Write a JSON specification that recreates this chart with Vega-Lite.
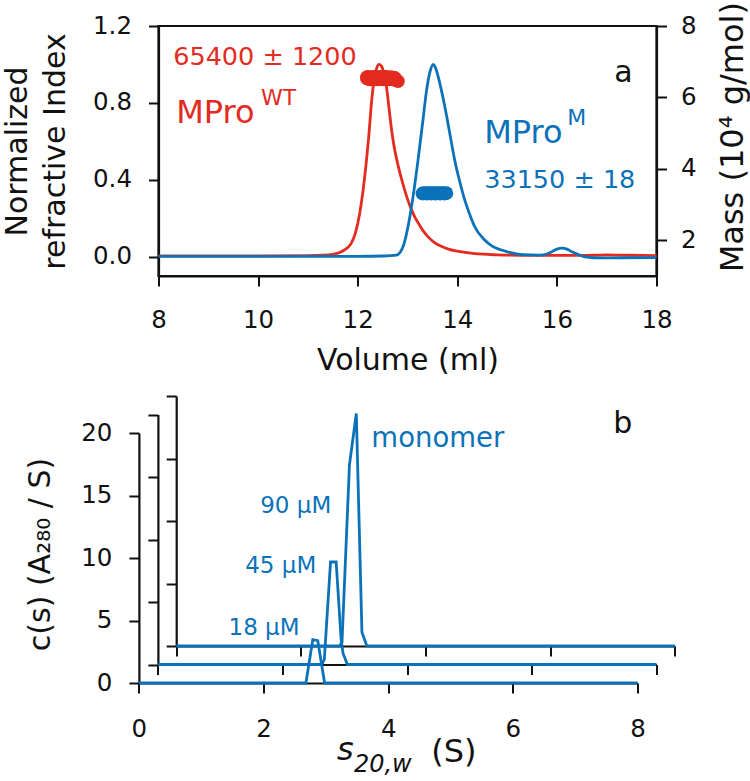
{
  "$schema": "https://vega.github.io/schema/vega-lite/v6.json",
  "padding": {"left": 0.5, "top": 0, "right": 0, "bottom": 0},
  "spacing": 18,
  "config": {
    "font": "DejaVu Sans",
    "view": {"stroke": null},
    "axis": {
      "grid": false,
      "domainColor": "#111111",
      "tickColor": "#111111",
      "labelColor": "#111111",
      "titleColor": "#111111",
      "domainWidth": 2.2,
      "tickWidth": 2,
      "tickSize": 10,
      "labelFontSize": 24.5,
      "titleFontWeight": "normal",
      "labelFlush": false,
      "labelOverlap": false
    },
    "text": {"align": "left", "baseline": "alphabetic"}
  },
  "datasets": {
    "ri_wt": [
      {"ml": 8.0, "ri": 0.005}, {"ml": 9.0, "ri": 0.005}, {"ml": 10.0, "ri": 0.005}, {"ml": 11.0, "ri": 0.006},
      {"ml": 11.3, "ri": 0.008}, {"ml": 11.5, "ri": 0.013}, {"ml": 11.7, "ri": 0.03}, {"ml": 11.87, "ri": 0.07},
      {"ml": 11.95, "ri": 0.12}, {"ml": 12.04, "ri": 0.225}, {"ml": 12.1, "ri": 0.33}, {"ml": 12.17, "ri": 0.485},
      {"ml": 12.22, "ri": 0.62}, {"ml": 12.28, "ri": 0.81}, {"ml": 12.33, "ri": 0.92}, {"ml": 12.38, "ri": 0.98},
      {"ml": 12.43, "ri": 1.0}, {"ml": 12.48, "ri": 0.99}, {"ml": 12.53, "ri": 0.95}, {"ml": 12.58, "ri": 0.88},
      {"ml": 12.63, "ri": 0.77}, {"ml": 12.68, "ri": 0.66}, {"ml": 12.74, "ri": 0.56}, {"ml": 12.82, "ri": 0.465},
      {"ml": 12.88, "ri": 0.405}, {"ml": 12.94, "ri": 0.35}, {"ml": 13.0, "ri": 0.3}, {"ml": 13.08, "ri": 0.245},
      {"ml": 13.15, "ri": 0.205}, {"ml": 13.21, "ri": 0.178}, {"ml": 13.3, "ri": 0.14}, {"ml": 13.41, "ri": 0.105},
      {"ml": 13.55, "ri": 0.072}, {"ml": 13.7, "ri": 0.052}, {"ml": 13.82, "ri": 0.04}, {"ml": 14.0, "ri": 0.029},
      {"ml": 14.35, "ri": 0.016}, {"ml": 14.8, "ri": 0.01}, {"ml": 15.5, "ri": 0.007},
      {"ml": 16.5, "ri": 0.007}, {"ml": 17.0, "ri": 0.01}, {"ml": 17.5, "ri": 0.008}, {"ml": 18.0, "ri": 0.006}
    ],
    "ri_m": [
      {"ml": 8.0, "ri": 0.002}, {"ml": 10.0, "ri": 0.002}, {"ml": 12.0, "ri": 0.002}, {"ml": 12.5, "ri": 0.004},
      {"ml": 12.78, "ri": 0.009}, {"ml": 12.91, "ri": 0.052}, {"ml": 13.01, "ri": 0.156}, {"ml": 13.11, "ri": 0.31},
      {"ml": 13.21, "ri": 0.5}, {"ml": 13.31, "ri": 0.71}, {"ml": 13.38, "ri": 0.86}, {"ml": 13.45, "ri": 0.96},
      {"ml": 13.52, "ri": 1.0}, {"ml": 13.58, "ri": 0.97}, {"ml": 13.65, "ri": 0.9}, {"ml": 13.75, "ri": 0.78},
      {"ml": 13.85, "ri": 0.64}, {"ml": 13.95, "ri": 0.5}, {"ml": 14.05, "ri": 0.39}, {"ml": 14.15, "ri": 0.295},
      {"ml": 14.25, "ri": 0.22}, {"ml": 14.35, "ri": 0.156}, {"ml": 14.55, "ri": 0.087}, {"ml": 14.7, "ri": 0.055},
      {"ml": 14.89, "ri": 0.035}, {"ml": 15.22, "ri": 0.014}, {"ml": 15.5, "ri": 0.01}, {"ml": 15.69, "ri": 0.009},
      {"ml": 15.85, "ri": 0.02}, {"ml": 16.0, "ri": 0.04}, {"ml": 16.1, "ri": 0.045}, {"ml": 16.2, "ri": 0.04},
      {"ml": 16.3, "ri": 0.026}, {"ml": 16.45, "ri": 0.01}, {"ml": 16.56, "ri": 0.0}, {"ml": 16.9, "ri": -0.006},
      {"ml": 17.3, "ri": -0.005}, {"ml": 18.0, "ri": -0.004}
    ],
    "mass_wt": [
      {"ml": 12.2, "mass": 6.55}, {"ml": 12.23, "mass": 6.54}, {"ml": 12.26, "mass": 6.53}, {"ml": 12.29, "mass": 6.54},
      {"ml": 12.32, "mass": 6.55}, {"ml": 12.35, "mass": 6.54}, {"ml": 12.38, "mass": 6.53}, {"ml": 12.41, "mass": 6.54},
      {"ml": 12.44, "mass": 6.55}, {"ml": 12.47, "mass": 6.54}, {"ml": 12.5, "mass": 6.53}, {"ml": 12.53, "mass": 6.54},
      {"ml": 12.56, "mass": 6.55}, {"ml": 12.59, "mass": 6.54}, {"ml": 12.62, "mass": 6.53}, {"ml": 12.65, "mass": 6.54},
      {"ml": 12.68, "mass": 6.54}, {"ml": 12.71, "mass": 6.53}, {"ml": 12.74, "mass": 6.52}
    ],
    "mass_wt_open": [
      {"ml": 12.78, "mass": 6.48}, {"ml": 12.81, "mass": 6.45}
    ],
    "mass_m": [
      {"ml": 13.3, "mass": 3.31}, {"ml": 13.33, "mass": 3.32}, {"ml": 13.36, "mass": 3.315}, {"ml": 13.39, "mass": 3.31},
      {"ml": 13.42, "mass": 3.32}, {"ml": 13.45, "mass": 3.315}, {"ml": 13.48, "mass": 3.31}, {"ml": 13.51, "mass": 3.32},
      {"ml": 13.54, "mass": 3.315}, {"ml": 13.57, "mass": 3.31}, {"ml": 13.6, "mass": 3.32}, {"ml": 13.63, "mass": 3.315},
      {"ml": 13.66, "mass": 3.31}, {"ml": 13.69, "mass": 3.32}, {"ml": 13.72, "mass": 3.315}, {"ml": 13.75, "mass": 3.31},
      {"ml": 13.78, "mass": 3.32}
    ],
    "lab_a_big": [
      {"ml": 8.356, "ri": 0.694, "label": "MPro", "grp": "WT"},
      {"ml": 14.54, "ri": 0.59, "label": "MPro", "grp": "M"}
    ],
    "lab_a_sup": [
      {"ml": 10.06, "ri": 0.789, "label": "WT", "grp": "WT"},
      {"ml": 16.21, "ri": 0.685, "label": "M", "grp": "M"}
    ],
    "lab_a_num": [
      {"ml": 8.295, "ri": 0.997, "label": "65400 ± 1200", "grp": "WT"},
      {"ml": 14.54, "ri": 0.356, "label": "33150 ± 18", "grp": "M"}
    ],
    "lab_a_panel": [
      {"ml": 17.15, "ri": 0.91, "label": "a", "grp": "k"}
    ],
    "cs1": [
      {"s": 0, "c": 0}, {"s": 1, "c": 0}, {"s": 2, "c": 0}, {"s": 2.6, "c": 0}, {"s": 2.68, "c": 0},
      {"s": 2.79, "c": 3.47}, {"s": 2.87, "c": 3.38}, {"s": 2.98, "c": 0}, {"s": 3.5, "c": 0},
      {"s": 5, "c": 0}, {"s": 6.5, "c": 0}, {"s": 8, "c": 0}
    ],
    "cs2": [
      {"s": 0, "c": 0}, {"s": 1, "c": 0}, {"s": 2, "c": 0}, {"s": 2.63, "c": 0}, {"s": 2.67, "c": 0.4},
      {"s": 2.77, "c": 8.2}, {"s": 2.86, "c": 8.2}, {"s": 2.94, "c": 2.0}, {"s": 2.97, "c": 0.9},
      {"s": 3.04, "c": 0}, {"s": 4, "c": 0}, {"s": 6, "c": 0}, {"s": 8, "c": 0}
    ],
    "cs3": [
      {"s": 0, "c": 0}, {"s": 1, "c": 0}, {"s": 2, "c": 0}, {"s": 2.62, "c": 0}, {"s": 2.66, "c": 0.3},
      {"s": 2.78, "c": 14.5}, {"s": 2.89, "c": 18.6}, {"s": 2.98, "c": 1.1}, {"s": 3.06, "c": 0},
      {"s": 4, "c": 0}, {"s": 6, "c": 0}, {"s": 8, "c": 0}
    ],
    "lab_b_conc": [
      {"s": 2.578, "c": 3.86, "label": "18 µM"},
      {"s": 2.846, "c": 8.8, "label": "45 µM"},
      {"s": 3.087, "c": 13.6, "label": "90 µM"}
    ],
    "lab_b_mono": [{"s": 3.73, "c": 18.9, "label": "monomer"}],
    "lab_b_panel": [{"s": 7.61, "c": 20.0, "label": "b"}],
    "lab_b_xs": [{"s": 3.18, "c": -6.14, "label": "s"}],
    "lab_b_xsub": [{"s": 3.45, "c": -7.1, "label": "20,w"}],
    "lab_b_xunit": [{"s": 4.69, "c": -6.3, "label": "(S)"}]
  },
  "vconcat": [
    {
      "width": 498,
      "height": 250,
      "view": {"stroke": "#111111", "strokeWidth": 2.2},
      "resolve": {"scale": {"y": "independent"}},
      "layer": [
        {
          "data": {"name": "ri_wt"},
          "mark": {"type": "line", "color": "#e32b1f", "strokeWidth": 2.8, "interpolate": "monotone"},
          "encoding": {
            "x": {"field": "ml", "type": "quantitative", "scale": {"domain": [8, 18], "nice": false},
                  "axis": {"values": [8, 10, 12, 14, 16, 18], "title": "Volume (ml)", "titleFontSize": 30,
                           "titleBaseline": "alphabetic", "titleY": 93, "labelBaseline": "alphabetic", "labelPadding": 41}},
            "y": {"field": "ri", "type": "quantitative", "scale": {"domain": [-0.1, 1.2], "nice": false},
                  "axis": {"orient": "left", "values": [0, 0.4, 0.8, 1.2], "format": ".1f",
                           "title": ["Normalized", "refractive Index"], "titleFontSize": 30, "titleLineHeight": 38,
                           "titleX": -132, "titleBaseline": "alphabetic", "labelPadding": 17}}
          }
        },
        {
          "data": {"name": "ri_m"},
          "mark": {"type": "line", "color": "#0b72b9", "strokeWidth": 2.8, "interpolate": "monotone"},
          "encoding": {
            "x": {"field": "ml", "type": "quantitative"},
            "y": {"field": "ri", "type": "quantitative", "scale": {"domain": [-0.1, 1.2], "nice": false}, "axis": null}
          }
        },
        {
          "data": {"name": "mass_wt"},
          "mark": {"type": "circle", "color": "#e32b1f", "size": 240, "opacity": 1},
          "encoding": {
            "x": {"field": "ml", "type": "quantitative"},
            "y": {"field": "mass", "type": "quantitative", "scale": {"domain": [1, 8], "nice": false},
                  "axis": {"orient": "right", "values": [2, 4, 6, 8], "title": "Mass (10⁴ g/mol)", "titleAngle": 270,
                           "titleFontSize": 32, "titleX": 86, "titleY": 110.7, "titleBaseline": "alphabetic", "labelPadding": 14}}
          }
        },
        {
          "data": {"name": "mass_wt_open"},
          "mark": {"type": "point", "shape": "circle", "color": "#e32b1f", "filled": false, "size": 120, "strokeWidth": 2.5, "opacity": 1},
          "encoding": {
            "x": {"field": "ml", "type": "quantitative"},
            "y": {"field": "mass", "type": "quantitative", "scale": {"domain": [1, 8], "nice": false}, "axis": null}
          }
        },
        {
          "data": {"name": "mass_m"},
          "mark": {"type": "circle", "color": "#0b72b9", "size": 190, "opacity": 1},
          "encoding": {
            "x": {"field": "ml", "type": "quantitative"},
            "y": {"field": "mass", "type": "quantitative", "scale": {"domain": [1, 8], "nice": false}, "axis": null}
          }
        },
        {
          "data": {"name": "lab_a_big"},
          "mark": {"type": "text", "fontSize": 32},
          "encoding": {
            "x": {"field": "ml", "type": "quantitative"},
            "y": {"field": "ri", "type": "quantitative", "scale": {"domain": [-0.1, 1.2], "nice": false}, "axis": null},
            "text": {"field": "label"},
            "color": {"field": "grp", "type": "nominal", "scale": {"domain": ["WT", "M", "k"], "range": ["#e32b1f", "#0b72b9", "#111111"]}, "legend": null}
          }
        },
        {
          "data": {"name": "lab_a_sup"},
          "mark": {"type": "text", "fontSize": 22},
          "encoding": {
            "x": {"field": "ml", "type": "quantitative"},
            "y": {"field": "ri", "type": "quantitative", "scale": {"domain": [-0.1, 1.2], "nice": false}, "axis": null},
            "text": {"field": "label"},
            "color": {"field": "grp", "type": "nominal", "legend": null}
          }
        },
        {
          "data": {"name": "lab_a_num"},
          "mark": {"type": "text", "fontSize": 25.5},
          "encoding": {
            "x": {"field": "ml", "type": "quantitative"},
            "y": {"field": "ri", "type": "quantitative", "scale": {"domain": [-0.1, 1.2], "nice": false}, "axis": null},
            "text": {"field": "label"},
            "color": {"field": "grp", "type": "nominal", "legend": null}
          }
        },
        {
          "data": {"name": "lab_a_panel"},
          "mark": {"type": "text", "fontSize": 30},
          "encoding": {
            "x": {"field": "ml", "type": "quantitative"},
            "y": {"field": "ri", "type": "quantitative", "scale": {"domain": [-0.1, 1.2], "nice": false}, "axis": null},
            "text": {"field": "label"},
            "color": {"field": "grp", "type": "nominal", "legend": null}
          }
        }
      ]
    },
    {
      "width": 480,
      "height": 250,
      "resolve": {"scale": {"x": "independent", "y": "independent"}},
      "layer": [
        {
          "data": {"name": "cs1"},
          "mark": {"type": "line", "color": "#0b72b9", "strokeWidth": 2.8, "clip": false},
          "encoding": {
            "x": {"field": "s", "type": "quantitative", "scale": {"domain": [0, 8], "range": [-19.6, 479], "nice": false},
                  "axis": {"orient": "bottom", "values": [0, 2, 4, 6, 8], "title": null, "labelBaseline": "alphabetic", "labelPadding": 43.5}},
            "y": {"field": "c", "type": "quantitative", "scale": {"domain": [0, 20], "range": [250, 0], "nice": false},
                  "axis": {"orient": "left", "offset": 19.6, "values": [0, 5, 10, 15, 20], "title": "c(s) (A₂₈₀ / S)",
                           "titleFontSize": 30, "titleX": -89, "titleY": 121, "titleBaseline": "alphabetic", "labelPadding": 17}}
          }
        },
        {
          "data": {"name": "cs2"},
          "mark": {"type": "line", "color": "#0b72b9", "strokeWidth": 2.8, "clip": false},
          "encoding": {
            "x": {"field": "s", "type": "quantitative", "scale": {"domain": [0, 8], "range": [-0.6, 498], "nice": false},
                  "axis": {"orient": "bottom", "offset": -18.5, "values": [0, 2, 4, 6, 8], "title": null, "labels": false}},
            "y": {"field": "c", "type": "quantitative", "scale": {"domain": [0, 20], "range": [231.5, -18.5], "nice": false},
                  "axis": {"orient": "left", "offset": 0.6, "values": [0, 5, 10, 15, 20], "title": null, "labels": false}}
          }
        },
        {
          "data": {"name": "cs3"},
          "mark": {"type": "line", "color": "#0b72b9", "strokeWidth": 2.8, "clip": false},
          "encoding": {
            "x": {"field": "s", "type": "quantitative", "scale": {"domain": [0, 8], "range": [17.7, 516.3], "nice": false},
                  "axis": {"orient": "bottom", "offset": -37, "values": [0, 2, 4, 6, 8], "title": null, "labels": false}},
            "y": {"field": "c", "type": "quantitative", "scale": {"domain": [0, 20], "range": [213, -37], "nice": false},
                  "axis": {"orient": "left", "offset": -17.7, "values": [0, 5, 10, 15, 20], "title": null, "labels": false}}
          }
        },
        {
          "data": {"name": "lab_b_conc"},
          "mark": {"type": "text", "fontSize": 23, "color": "#0b72b9", "align": "right"},
          "encoding": {
            "x": {"field": "s", "type": "quantitative", "scale": {"domain": [0, 8], "range": [-19.6, 479], "nice": false}, "axis": null},
            "y": {"field": "c", "type": "quantitative", "scale": {"domain": [0, 20], "range": [250, 0], "nice": false}, "axis": null},
            "text": {"field": "label"}
          }
        },
        {
          "data": {"name": "lab_b_mono"},
          "mark": {"type": "text", "fontSize": 27.5, "color": "#0b72b9"},
          "encoding": {
            "x": {"field": "s", "type": "quantitative", "scale": {"domain": [0, 8], "range": [-19.6, 479], "nice": false}, "axis": null},
            "y": {"field": "c", "type": "quantitative", "scale": {"domain": [0, 20], "range": [250, 0], "nice": false}, "axis": null},
            "text": {"field": "label"}
          }
        },
        {
          "data": {"name": "lab_b_panel"},
          "mark": {"type": "text", "fontSize": 30, "color": "#111111"},
          "encoding": {
            "x": {"field": "s", "type": "quantitative", "scale": {"domain": [0, 8], "range": [-19.6, 479], "nice": false}, "axis": null},
            "y": {"field": "c", "type": "quantitative", "scale": {"domain": [0, 20], "range": [250, 0], "nice": false}, "axis": null},
            "text": {"field": "label"}
          }
        },
        {
          "data": {"name": "lab_b_xs"},
          "mark": {"type": "text", "fontSize": 32, "fontStyle": "italic", "color": "#111111"},
          "encoding": {
            "x": {"field": "s", "type": "quantitative", "scale": {"domain": [0, 8], "range": [-19.6, 479], "nice": false}, "axis": null},
            "y": {"field": "c", "type": "quantitative", "scale": {"domain": [0, 20], "range": [250, 0], "nice": false}, "axis": null},
            "text": {"field": "label"}
          }
        },
        {
          "data": {"name": "lab_b_xsub"},
          "mark": {"type": "text", "fontSize": 24, "fontStyle": "italic", "color": "#111111"},
          "encoding": {
            "x": {"field": "s", "type": "quantitative", "scale": {"domain": [0, 8], "range": [-19.6, 479], "nice": false}, "axis": null},
            "y": {"field": "c", "type": "quantitative", "scale": {"domain": [0, 20], "range": [250, 0], "nice": false}, "axis": null},
            "text": {"field": "label"}
          }
        },
        {
          "data": {"name": "lab_b_xunit"},
          "mark": {"type": "text", "fontSize": 32, "color": "#111111"},
          "encoding": {
            "x": {"field": "s", "type": "quantitative", "scale": {"domain": [0, 8], "range": [-19.6, 479], "nice": false}, "axis": null},
            "y": {"field": "c", "type": "quantitative", "scale": {"domain": [0, 20], "range": [250, 0], "nice": false}, "axis": null},
            "text": {"field": "label"}
          }
        }
      ]
    }
  ]
}
